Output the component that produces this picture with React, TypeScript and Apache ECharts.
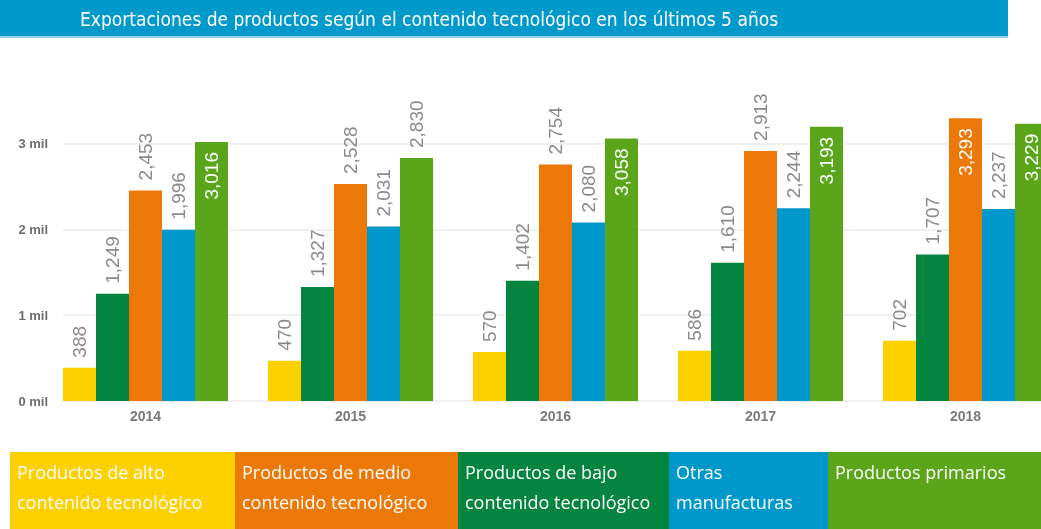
import React, { useEffect, useRef } from "react";
import * as echarts from "echarts";

const years = ["2014", "2015", "2016", "2017", "2018"];
const alto = [388, 470, 570, 586, 702];
const bajo = [1249, 1327, 1402, 1610, 1707];
const medio = [2453, 2528, 2754, 2913, 3293];
const otras = [1996, 2031, 2080, 2244, 2237];
const primarios = [3016, 2830, 3058, 3193, 3229];
const yTicks = [0, 1000, 2000, 3000];

const seriesNames = [
  "Productos de alto contenido tecnológico",
  "Productos de bajo contenido tecnológico",
  "Productos de medio contenido tecnológico",
  "Otras manufacturas",
  "Productos primarios",
];
const seriesData = [alto, bajo, medio, otras, primarios];
const seriesColors = ["#FDD000", "#03843F", "#EC7808", "#0098CB", "#5AA519"];
// indices of bars whose label sits inside the bar (white)
const insideLabels = [[], [], [4], [], [0, 2, 3, 4]];

const legendLines = [
  "Productos de alto\ncontenido tecnológico",
  "Productos de medio\ncontenido tecnológico",
  "Productos de bajo\ncontenido tecnológico",
  "Otras\nmanufacturas",
  "Productos primarios",
];
const legendColors = ["#FDD000", "#EC7808", "#03843F", "#0098CB", "#5AA519"];
const legendLefts = [10, 235, 458, 669, 828, 1041];

const titleText =
  "Exportaciones de productos según el contenido tecnológico en los últimos 5 años";

export default function App() {
  const ref = useRef<HTMLDivElement>(null);
  useEffect(() => {
    if (!ref.current) return;
    const chart = echarts.init(ref.current, undefined, { renderer: "svg" });
    const fmt = (v: number) => v.toLocaleString("en-US");
    const series = seriesData.map((arr, si) => ({
      name: seriesNames[si],
      type: "bar",
      xAxisIndex: 0,
      yAxisIndex: 0,
      barWidth: 33,
      barGap: "0%",
      itemStyle: { color: seriesColors[si] },
      data: arr.map((v, i) => {
        const inside = insideLabels[si].includes(i);
        return {
          value: v,
          label: inside
            ? {
                show: true,
                position: "insideTop",
                rotate: 90,
                align: "right",
                verticalAlign: "middle",
                distance: 10,
                color: "#ffffff",
                fontSize: 19,
                fontFamily: "Liberation Sans, Arial, sans-serif",
                formatter: () => fmt(v),
              }
            : {
                show: true,
                position: "top",
                rotate: 90,
                align: "left",
                verticalAlign: "middle",
                distance: 10,
                color: "#8a8a8a",
                fontSize: 19,
                fontFamily: "Liberation Sans, Arial, sans-serif",
                formatter: () => fmt(v),
              },
        };
      }),
    }));

    const graphics: any[] = [
      {
        type: "rect",
        shape: { x: 0, y: 0, width: 1008, height: 38 },
        style: { fill: "#0099CC" },
      },
      {
        type: "rect",
        shape: { x: 0, y: 36, width: 1008, height: 2 },
        style: { fill: "#8fd0ea" },
      },
      {
        type: "text",
        x: 80,
        y: 19,
        style: {
          text: titleText,
          fill: "#ffffff",
          fontSize: 19,
          fontFamily: "Liberation Sans Narrow, DejaVu Sans Condensed, sans-serif",
          verticalAlign: "middle",
        },
      },
    ];
    legendLines.forEach((t, i) => {
      graphics.push({
        type: "rect",
        shape: {
          x: legendLefts[i],
          y: 452,
          width: legendLefts[i + 1] - legendLefts[i],
          height: 77,
        },
        style: { fill: legendColors[i] },
      });
      graphics.push({
        type: "text",
        x: legendLefts[i] + 7,
        y: 457,
        style: {
          text: t,
          fill: "#ffffff",
          fontSize: 18,
          lineHeight: 30,
          fontFamily: "Open Sans, Noto Sans, sans-serif",
          verticalAlign: "top",
        },
      });
    });

    chart.setOption({
      animation: false,
      grid: [
        { left: 43, top: 100.5, width: 1025, bottom: 128, outerBoundsMode: "none" },
        { left: 63, top: 143.5, right: 0, bottom: 128, outerBoundsMode: "none" },
      ],
      xAxis: [
        {
          gridIndex: 0,
          type: "category",
          data: years,
          axisLine: { show: false },
          axisTick: { show: false },
          axisLabel: {
            color: "#7a7a7a",
            fontWeight: "bold",
            fontSize: 14,
            margin: 8,
            fontFamily: "Liberation Sans, Arial, sans-serif",
          },
        },
        { gridIndex: 1, type: "value", show: false },
      ],
      yAxis: [
        { gridIndex: 0, type: "value", min: 0, max: 3500, show: false },
        {
          gridIndex: 1,
          type: "value",
          min: yTicks[0],
          max: yTicks[yTicks.length - 1],
          interval: 1000,
          axisLine: { show: false },
          axisTick: { show: false },
          splitLine: { lineStyle: { color: "#ebebeb", width: 1.5 } },
          axisLabel: {
            color: "#6e6e6e",
            fontWeight: "bold",
            fontSize: 13,
            margin: 15,
            fontFamily: "Liberation Sans, Arial, sans-serif",
            formatter: (v: number) => `${v / 1000} mil`,
          },
        },
      ],
      series,
      graphic: graphics,
    });
    return () => chart.dispose();
  }, []);
  return (
    <div
      ref={ref}
      style={{ position: "fixed", left: 0, top: 0, width: 1041, height: 529 }}
    />
  );
}
